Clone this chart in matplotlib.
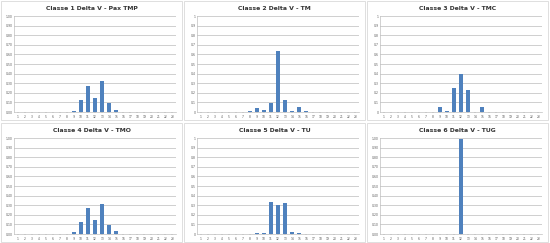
import numpy as np
import matplotlib.pyplot as plt
from matplotlib.patches import Rectangle

# categories 1..23 (delta V classes)
cats = list(range(1, 24))

titles = [
    "Classe 1 Delta V - Pax TMP",
    "Classe 2 Delta V - TM",
    "Classe 3 Delta V - TMC",
    "Classe 4 Delta V - TMO",
    "Classe 5 Delta V - TU",
    "Classe 6 Delta V - TUG",
]

# share of each class (index = class - 1)
c1 = [0, 0, 0, 0, 0, 0, 0, 0, 0.01, 0.12, 0.27, 0.145, 0.32, 0.094, 0.024] + [0] * 8
c2 = [0, 0, 0, 0, 0, 0, 0, 0.014, 0.04, 0.02, 0.097, 0.633, 0.13, 0.014, 0.05, 0.007] + [0] * 7
c3 = [0, 0, 0, 0, 0, 0, 0, 0, 0.048, 0.01, 0.25, 0.40, 0.23, 0.003, 0.055] + [0] * 8
c4 = [0, 0, 0, 0, 0, 0, 0, 0, 0.017, 0.12, 0.27, 0.143, 0.317, 0.09, 0.028] + [0] * 8
c5 = [0, 0, 0, 0, 0, 0, 0, 0, 0.01, 0.01, 0.33, 0.305, 0.32, 0.017, 0.007] + [0] * 8
c6 = [0, 0, 0, 0, 0, 0, 0, 0, 0, 0, 0.004, 0.99, 0.004] + [0] * 10
series = [c1, c2, c3, c4, c5, c6]

# y tick label style per panel: two decimals or short
two_dec = [True, False, False, True, False, True]

W, H = 550, 243
fig = plt.figure(figsize=(W / 100, H / 100), dpi=100)
fig.patch.set_facecolor("white")

pw, ph = 181, 119
x0s = [1, 184, 367]
y0s = [1, 123]

for k in range(6):
    row, col = divmod(k, 3)
    px, py = x0s[col], y0s[row]
    # chart border
    fig.patches.append(Rectangle((px / W, 1 - (py + ph) / H), pw / W, ph / H,
                                 transform=fig.transFigure, fill=False,
                                 edgecolor="#d9d9d9", linewidth=0.6))
    fig.text((px + pw / 2) / W, 1 - (py + 8) / H, titles[k], ha="center",
             va="center", fontsize=4.4, fontweight="bold", color="#333333")
    ax = fig.add_axes([(px + 13) / W, 1 - (py + 111) / H, 162 / W, 96 / H])
    x = np.arange(len(cats))
    ax.bar(x, series[k], width=0.48, color="#4f81bd", zorder=3)
    ax.set_xlim(-0.5, len(cats) - 0.5)
    ax.set_ylim(0, 1)
    ticks = np.round(np.arange(0, 1.01, 0.1), 1)
    ax.set_yticks(ticks)
    if two_dec[k]:
        ax.set_yticklabels([f"{t:.2f}" for t in ticks])
    else:
        ax.set_yticklabels([("0" if t == 0 else ("1" if t == 1 else f"{t:.1f}")) for t in ticks])
    ax.set_xticks(x)
    ax.set_xticklabels([str(c) for c in cats])
    ax.grid(axis="y", color="#c8c8c8", linewidth=0.6, zorder=0)
    ax.tick_params(axis="both", labelsize=2.2, colors="#555555", length=1, width=0.3, pad=1)
    ax.tick_params(axis="y", length=0)
    for s in ["top", "right"]:
        ax.spines[s].set_visible(False)
    for s in ["left", "bottom"]:
        ax.spines[s].set_color("#bfbfbf")
        ax.spines[s].set_linewidth(0.5)

fig.savefig("out.png", dpi=100)
